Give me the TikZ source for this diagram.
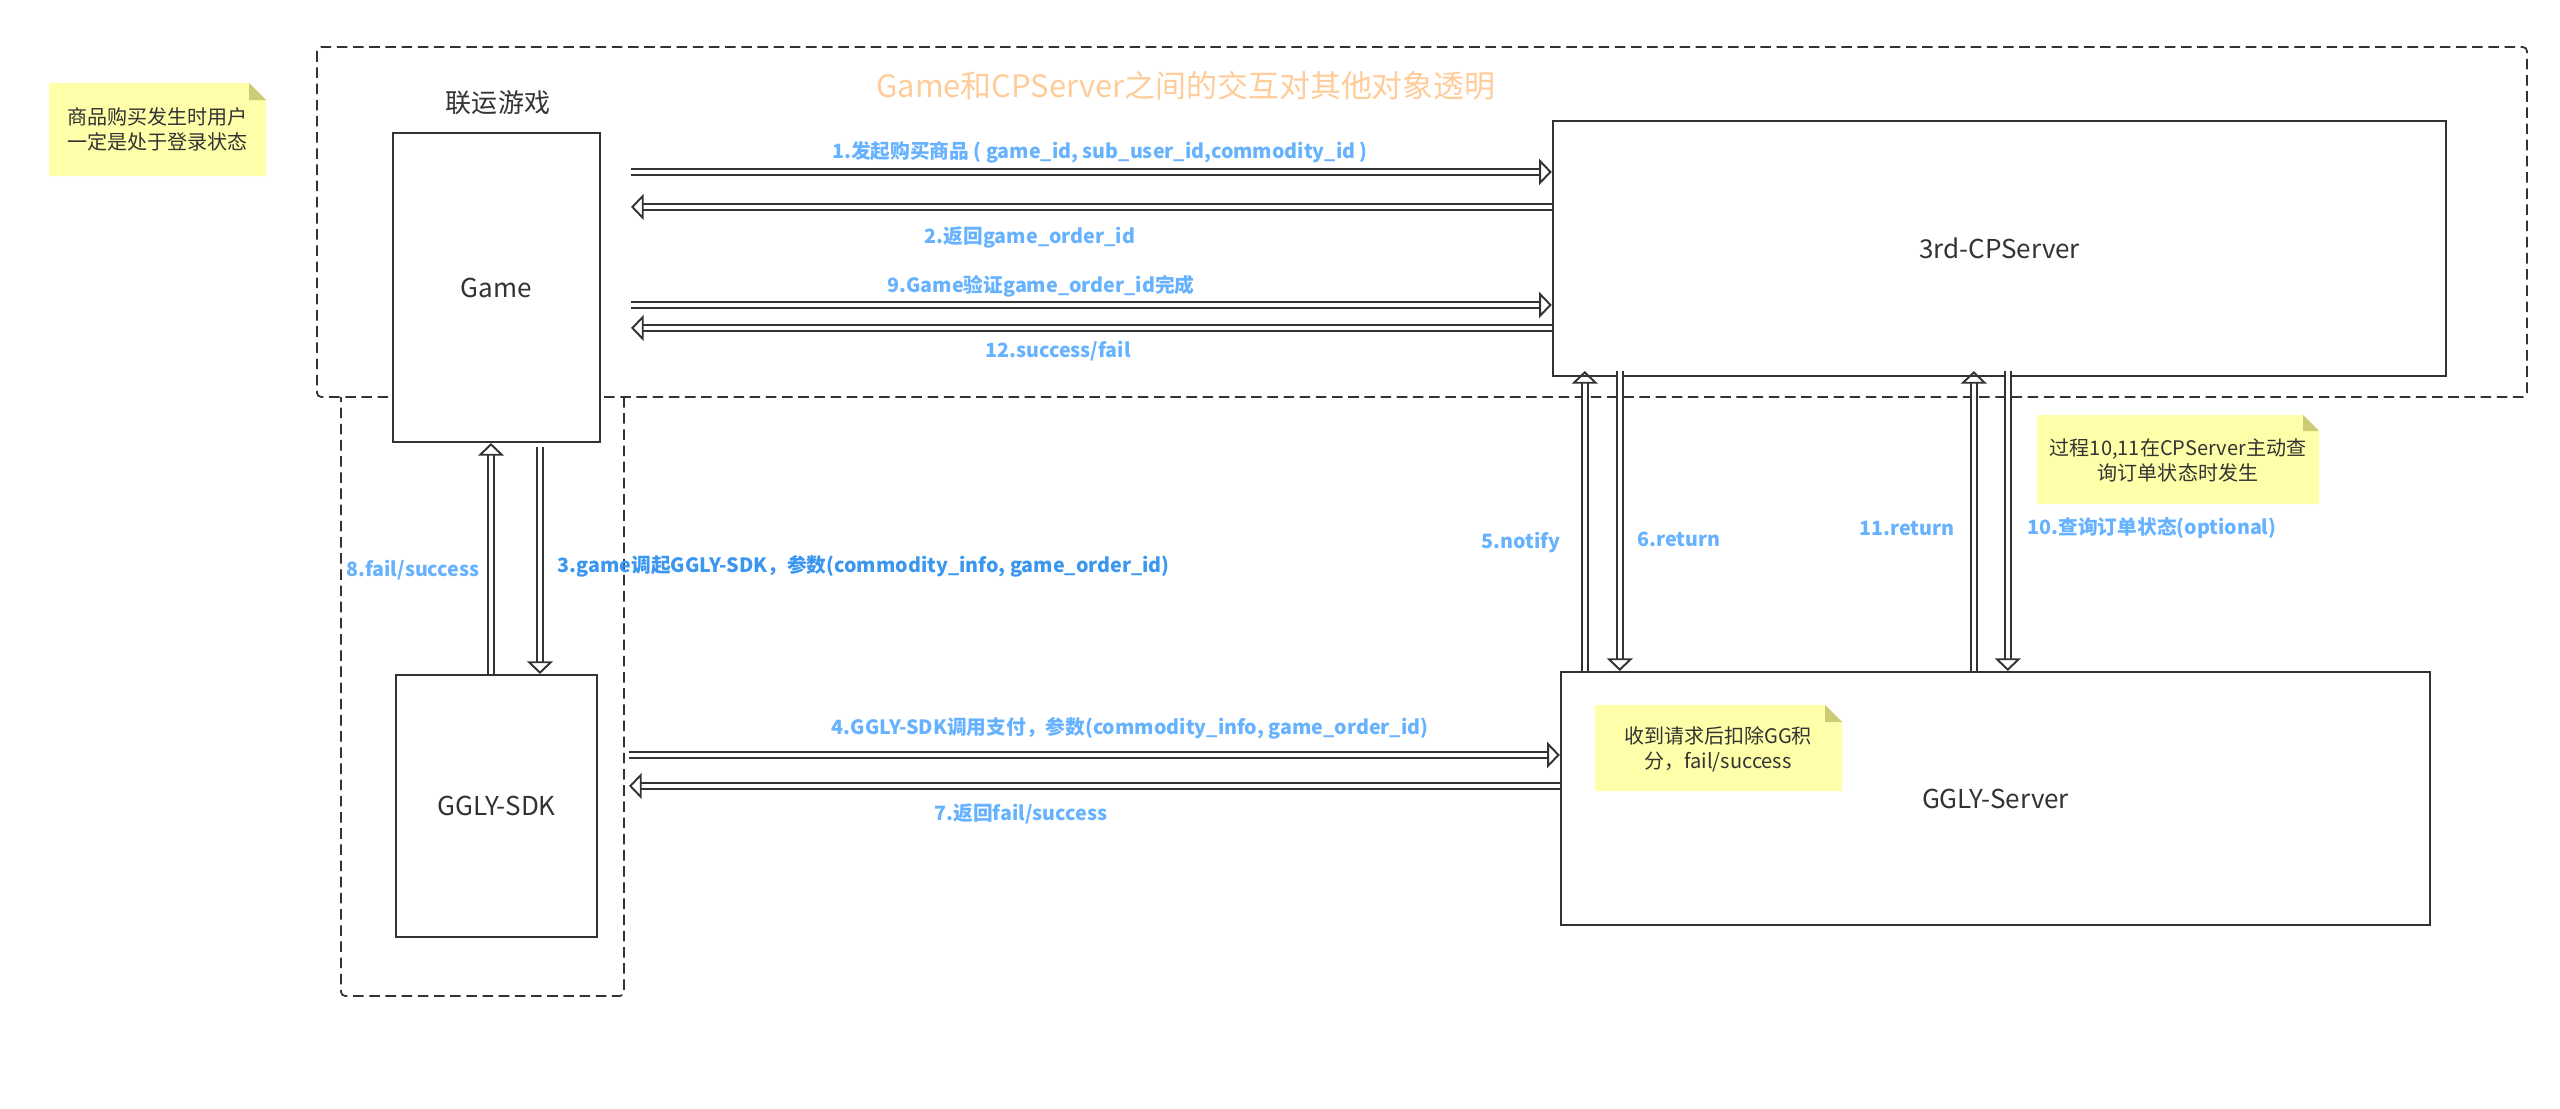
\documentclass[tikz,border=0pt]{standalone}
\usepackage{fontspec}
\setmainfont{Noto Sans CJK SC}
\usepackage{tikz}
\usetikzlibrary{arrows.meta,calc}

\definecolor{linegray}{HTML}{333333}
\definecolor{labelblue}{HTML}{66B2FF}
\definecolor{callblue}{HTML}{3A96EE}
\definecolor{titleorange}{HTML}{FFCC99}
\definecolor{memoyellow}{HTML}{FFFFAA}
\definecolor{memofold}{HTML}{CCCC77}

\begin{document}
\begin{tikzpicture}[x=0.01cm,y=-0.01cm,
	box/.style={draw=linegray, line width=0.55pt, inner sep=0pt, text=linegray, font=\fontsize{7.4}{9}\selectfont},
	grp/.style={draw=linegray, line width=0.5pt, dash pattern=on 3pt off 1.6pt, rounded corners=1.2pt},
	flow/.style={draw=linegray, line width=0.55pt, double=white, double distance=1.1pt,
		-{Triangle[open, length=3.6pt, width=7.4pt, line width'=0.55pt]}},
	lbl/.style={inner sep=0pt, text=labelblue, font=\bfseries\fontsize{5.6}{6.5}\selectfont},
	memotext/.style={inner sep=0pt, align=center, text=linegray, font=\fontsize{5.7}{7.1}\selectfont}]
	\useasboundingbox (0,0) rectangle (2560,1109);
%
	\draw[grp] (317,47) rectangle (2527,397);
	\draw[grp] (624,397) -- (624,996) -- (341,996) -- (341,397);
	\node[text=titleorange, font=\fontsize{8.8}{10}\selectfont] (title) at (1186,86) {Game和CPServer之间的交互对其他对象透明};
	\node[text=linegray, font=\fontsize{7.4}{9}\selectfont] (lianyun) at (498,103) {联运游戏};
%
	\node[box, fill=white, minimum width=2.07cm, minimum height=3.09cm] (game) at (496.5,287.5) {Game};
	\node[box, minimum width=2.01cm, minimum height=2.62cm] (sdk) at (496.5,806) {GGLY-SDK};
	\node[box, minimum width=8.93cm, minimum height=2.55cm] (cp) at (1999.5,248.5) {3rd-CPServer};
	\node[box, minimum width=8.69cm, minimum height=2.53cm] (ggly) at (1995.5,798.5) {GGLY-Server};
%
	% notes
	\fill[memoyellow] (49,83) -- (249,83) -- (266,100) -- (266,176) -- (49,176) -- cycle;
	\fill[memofold] (249,83) -- (266,100) -- (249,100) -- cycle;
	\node[memotext] (memo1) at (157.5,129.5) {商品购买发生时用户\\一定是处于登录状态};
	\fill[memoyellow] (2037,415) -- (2303,415) -- (2319,431) -- (2319,504) -- (2037,504) -- cycle;
	\fill[memofold] (2303,415) -- (2319,431) -- (2303,431) -- cycle;
	\node[memotext] (memo2) at (2178,460.5) {过程10,11在CPServer主动查\\询订单状态时发生};
	\fill[memoyellow] (1595,705) -- (1825,705) -- (1842,722) -- (1842,791) -- (1595,791) -- cycle;
	\fill[memofold] (1825,705) -- (1842,722) -- (1825,722) -- cycle;
	\node[memotext] (memo3) at (1718,749.5) {收到请求后扣除GG积\\分，fail/success};
%
	% Game <-> CPServer
	\draw[flow] ($(game.north east)+(30,40)$) coordinate (s1) -- (s1 -| cp.west);
	\draw[flow] ($(cp.north west)+(0,87)$) coordinate (s2) -- (s2 -| s1);
	\draw[flow] ($(game.north east)+(30,173)$) coordinate (s9) -- (s9 -| cp.west);
	\draw[flow] ($(cp.north west)+(0,208)$) coordinate (s12) -- (s12 -| s1);
	\node[lbl] (l1) at (1100,152) {1.发起购买商品 ( game\_id, sub\_user\_id,commodity\_id )};
	\node[lbl] (l2) at (1030,237) {2.返回game\_order\_id};
	\node[lbl] (l9) at (1041,286) {9.Game验证game\_order\_id完成};
	\node[lbl] (l12) at (1058,351) {12.success/fail};
%
	% Game <-> GGLY-SDK
	\draw[flow] ($(sdk.north west)+(96,0)$) coordinate (s8) -- (s8 |- game.south);
	\draw[flow] ($(game.south west)+(148,4)$) coordinate (s3) -- (s3 |- sdk.north);
	\node[lbl] (l8) at (413,570) {8.fail/success};
	\node[lbl, anchor=west, text=callblue] (l3) at (557,566) {3.game调起GGLY-SDK，参数(commodity\_info, game\_order\_id)};
%
	% GGLY-SDK <-> GGLY-Server
	\draw[flow] ($(sdk.north east)+(31,81)$) coordinate (s4) -- (s4 -| ggly.west);
	\draw[flow] ($(ggly.north west)+(0,115)$) coordinate (s7) -- (s7 -| s4);
	\node[lbl] (l4) at (1130,728) {4.GGLY-SDK调用支付，参数(commodity\_info, game\_order\_id)};
	\node[lbl] (l7) at (1021,814) {7.返回fail/success};
%
	% GGLY-Server <-> CPServer
	\draw[flow] ($(ggly.north west)+(25,0)$) coordinate (s5) -- ($(s5 |- cp.south)+(0,-6)$);
	\draw[flow] ($(cp.south west)+(68,-6)$) coordinate (s6) -- (s6 |- ggly.north);
	\draw[flow] ($(ggly.north west)+(414,0)$) coordinate (s11) -- ($(s11 |- cp.south)+(0,-6)$);
	\draw[flow] ($(cp.south west)+(456,-6)$) coordinate (s10) -- (s10 |- ggly.north);
	\node[lbl, anchor=east] (l5) at (1561,542) {5.notify};
	\node[lbl] (l6) at (1679,539) {6.return};
	\node[lbl] (l11) at (1907,528) {11.return};
	\node[lbl] (l10) at (2152,528) {10.查询订单状态(optional)};
\end{tikzpicture}
\end{document}
